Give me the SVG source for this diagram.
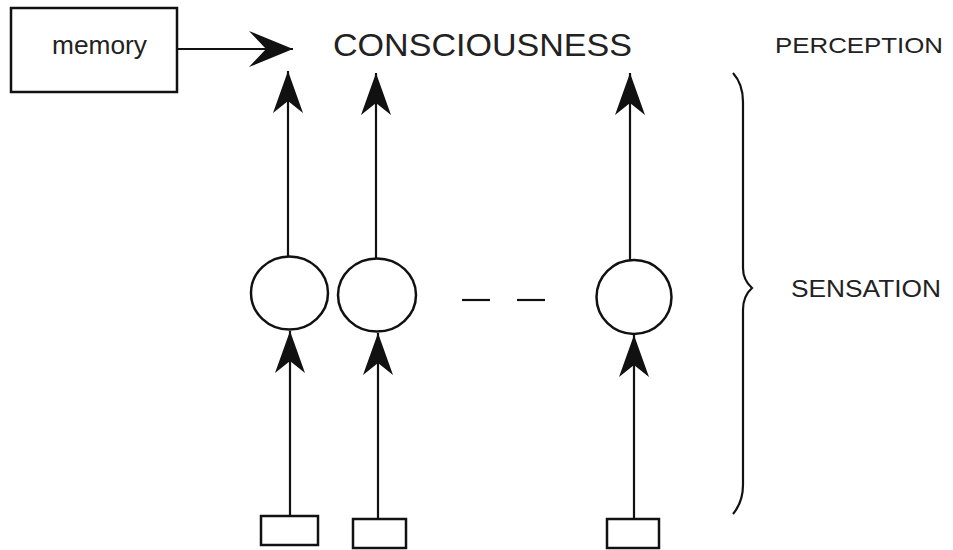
<svg xmlns="http://www.w3.org/2000/svg" width="953" height="550" viewBox="0 0 953 550">
  <style>
    .box { fill: #fff; stroke: #111; stroke-width: 2.5; }
    .cell { fill: #fff; stroke: #111; stroke-width: 2.5; }
    .wire { fill: none; stroke: #111; stroke-width: 2.2; }
    .label { font-family: "Liberation Sans", Arial, sans-serif; fill: #222; }
  </style>
  <defs>
    <marker id="head" markerUnits="userSpaceOnUse" markerWidth="50" markerHeight="40" refX="44" refY="16" orient="auto" viewBox="0 0 50 32">
      <path d="M44,16 L2,1 L14,16 L2,31 Z" fill="#111"/>
    </marker>
    <marker id="headWide" markerUnits="userSpaceOnUse" markerWidth="50" markerHeight="40" refX="45" refY="20" orient="auto" viewBox="0 0 50 40">
      <path d="M45,20 L1,2 L18,20 L1,38 Z" fill="#111"/>
    </marker>
  </defs>

  <rect width="953" height="550" fill="#fff"/>

  <!-- memory store -->
  <g id="memory">
    <rect class="box" x="11" y="8" width="166" height="84"/>
    <text class="label" x="52" y="54" font-size="25" textLength="95" lengthAdjust="spacingAndGlyphs" fill="#333">memory</text>
  </g>

  <!-- top labels -->
  <g id="consciousness">
    <text class="label" x="333" y="56" font-size="31" textLength="299" lengthAdjust="spacingAndGlyphs" fill="#111">CONSCIOUSNESS</text>
  </g>
  <g id="perception">
    <text class="label" x="775" y="53" font-size="22" textLength="168" lengthAdjust="spacingAndGlyphs" fill="#333">PERCEPTION</text>
  </g>
  <g id="sensation">
    <text class="label" x="791" y="297" font-size="24" textLength="150" lengthAdjust="spacingAndGlyphs" fill="#333">SENSATION</text>
  </g>

  <!-- sense cells -->
  <g id="cell1"><ellipse class="cell" cx="289.5" cy="293" rx="38.5" ry="36.5"/></g>
  <g id="cell2"><ellipse class="cell" cx="377" cy="295" rx="39" ry="36.5"/></g>
  <g id="cell3"><ellipse class="cell" cx="634" cy="297" rx="37.5" ry="37"/></g>

  <!-- receptors -->
  <g id="receptor1"><rect class="box" x="261" y="516" width="57" height="29"/></g>
  <g id="receptor2"><rect class="box" x="353" y="519" width="53" height="29"/></g>
  <g id="receptor3"><rect class="box" x="607" y="519" width="52" height="29"/></g>

  <!-- ellipsis between cells -->
  <g id="ellipsis">
    <line class="wire" x1="462" y1="300" x2="490" y2="300" stroke-width="3"/>
    <line class="wire" x1="517" y1="300" x2="545" y2="300" stroke-width="3"/>
  </g>

  <!-- brace grouping the sensation stage -->
  <g id="brace">
    <path class="wire" d="M733,73 Q743,84 743,102 L743,268 Q743,280 752,288 Q743,296 743,310 L743,485 Q743,502 733,514"/>
  </g>

  <g id="connectors">
    <line class="wire" x1="177" y1="49" x2="293" y2="49" marker-end="url(#headWide)"/>
    <line class="wire" x1="288" y1="256" x2="288" y2="71" marker-end="url(#head)"/>
    <line class="wire" x1="376" y1="258" x2="376" y2="73" marker-end="url(#head)"/>
    <line class="wire" x1="630" y1="260" x2="630" y2="73" marker-end="url(#head)"/>
    <line class="wire" x1="290" y1="516" x2="290" y2="331" marker-end="url(#head)"/>
    <line class="wire" x1="378" y1="519" x2="378" y2="333" marker-end="url(#head)"/>
    <line class="wire" x1="634" y1="519" x2="634" y2="335" marker-end="url(#head)"/>
  </g>
</svg>
